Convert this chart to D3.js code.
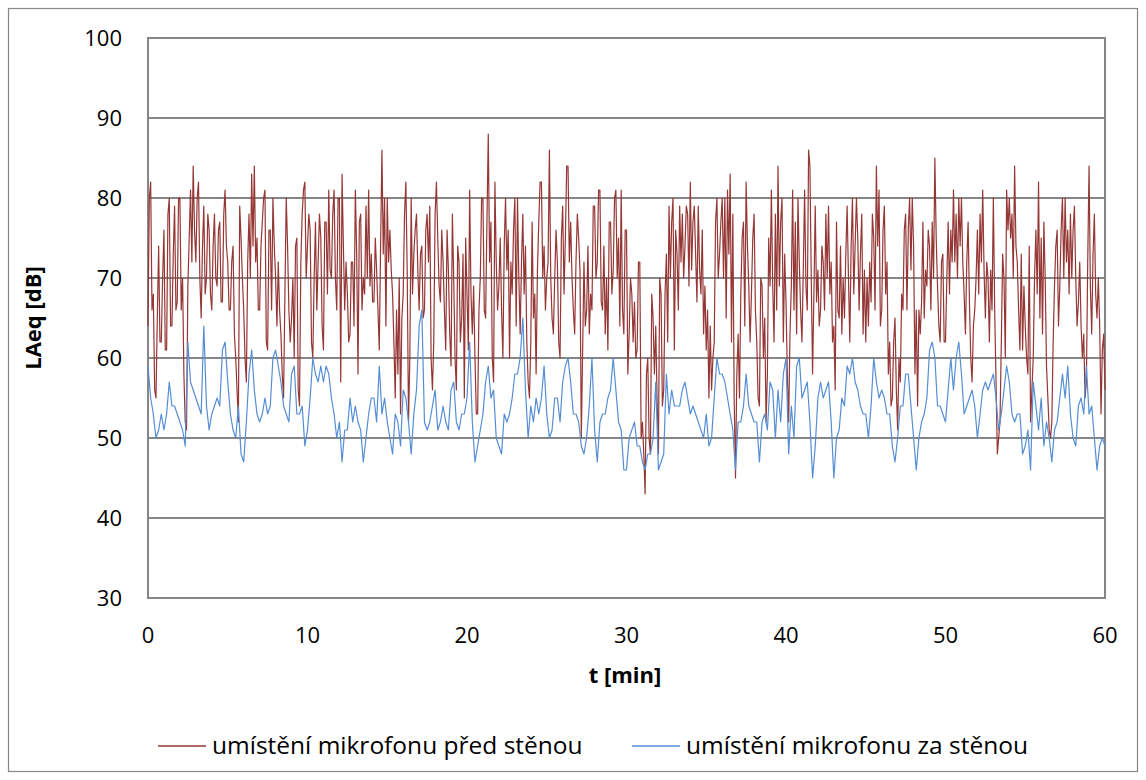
<!DOCTYPE html>
<html>
<head>
<meta charset="utf-8">
<script src="https://cdn.jsdelivr.net/npm/d3@7"></script>
<style>
  body { margin: 0; background: #fff; }
  text { font-family: "Open Sans", Lato, sans-serif; fill: #000; }
</style>
</head>
<body>
<div id="chart"></div>
<script>
// sampling steps, in minutes
const stepFront = 1 / 12;  // 5 s
const stepBehind = 1 / 6;  // 10 s

const seriesNames = ['umístění mikrofonu před stěnou', 'umístění mikrofonu za stěnou'];
const seriesColors = ['#953735', '#558ed5'];

// LAeq [dB], microphone in front of the wall (one row = 6 min)
const frontWall = [
  64,80,82,66,68,56,55,65,74,62,62,70,76,61,61,78,80,64,64,73,79,66,67,80,80,66,70,58,52,51,69,75,81,72,84,76,72,80,82,70,65,74,79,68,70,78,76,68,66,74,78,70,69,76,77,67,67,78,81,74,72,66,66,72,74,63,60,56,52,79,75,70,
  66,60,57,72,78,70,83,74,84,72,75,66,66,74,77,80,81,62,61,76,76,66,80,74,70,64,72,66,63,58,55,68,80,74,66,62,65,70,60,74,75,56,54,72,78,81,82,70,74,78,76,62,60,70,77,66,72,78,75,64,61,77,77,68,81,71,70,78,81,70,66,80,
  80,57,83,74,66,72,68,62,63,72,72,64,81,73,58,77,78,66,70,68,79,70,81,69,73,67,67,75,71,66,61,74,86,73,80,64,80,72,76,71,68,62,55,66,58,70,53,65,68,78,82,71,52,60,80,68,73,76,78,71,66,73,74,65,66,76,78,72,79,60,56,62,
  78,82,75,69,67,76,72,66,61,76,71,63,59,78,70,60,56,74,72,62,65,73,55,75,68,61,81,68,63,69,60,53,53,66,70,80,80,66,65,77,88,72,77,60,57,82,72,66,69,75,66,60,74,80,71,76,60,72,68,76,80,64,80,70,63,72,78,68,74,62,57,55,
  62,77,65,68,58,71,77,82,82,70,74,66,70,72,86,70,65,63,70,76,72,62,60,75,79,68,75,84,84,72,77,70,66,63,72,78,75,71,50,61,72,64,66,74,63,68,66,79,79,70,72,81,81,67,66,74,63,70,61,77,77,68,71,80,81,70,75,64,81,66,63,76,
  76,58,63,70,68,62,67,60,61,72,72,50,52,48,43,58,60,50,48,68,65,58,64,55,48,70,68,54,56,68,73,62,79,70,77,80,61,76,73,66,79,72,78,70,74,79,78,69,82,71,77,79,73,67,79,71,68,76,63,69,61,66,55,64,56,60,62,77,80,70,73,77,
  80,70,80,65,81,73,83,62,78,55,45,58,63,55,68,75,77,64,82,74,69,62,68,75,78,66,62,55,54,70,69,60,65,52,58,75,69,81,69,62,78,66,84,69,77,80,62,73,67,58,52,63,69,81,66,77,63,80,72,66,62,71,81,69,66,86,84,70,58,68,79,67,
  71,64,66,74,72,66,78,70,79,68,72,62,64,56,77,66,65,74,63,70,65,73,79,70,62,74,80,68,74,80,75,66,73,78,63,71,62,70,64,72,67,78,75,66,84,74,81,64,66,76,79,68,72,58,62,54,55,62,65,56,51,60,57,68,66,76,78,66,76,80,71,80,
  74,58,66,54,66,63,67,77,65,71,69,76,74,66,77,70,85,75,69,64,62,72,73,62,62,70,77,68,76,72,81,72,78,70,80,74,80,72,68,63,72,77,67,60,57,64,66,70,76,68,78,72,81,71,65,72,70,62,71,66,80,66,57,48,50,52,62,73,70,60,81,76,
  80,75,78,70,84,74,72,66,61,73,61,69,64,60,58,74,52,56,60,70,76,68,82,65,75,63,77,70,59,55,51,50,52,62,69,74,76,64,69,76,80,70,80,72,76,68,78,70,76,79,70,64,67,72,64,60,63,55,57,72,84,69,63,73,78,68,65,70,64,53,61,63,
  56
];

// LAeq [dB], microphone behind the wall (one row = 6 min)
const behindWall = [
  59,55,53,50,51,53,51,53,57,54,54,53,52,51,49,62,57,56,55,54,53,64,54,51,53,54,55,54,61,62,57,53,51,50,54,48,
  47,52,58,61,56,53,52,53,55,53,54,60,61,59,57,54,53,52,58,59,53,53,54,49,51,55,60,58,57,59,57,59,58,55,53,50,
  52,47,51,51,55,52,54,52,51,47,50,53,55,55,52,59,53,55,52,50,48,53,52,49,56,55,52,48,53,56,64,66,52,51,52,54,
  56,51,52,54,52,51,56,57,52,51,53,53,55,62,52,47,49,51,53,57,59,55,56,50,49,48,53,52,53,55,58,58,60,65,56,50,
  54,52,55,53,55,59,53,50,51,55,55,52,57,59,60,57,53,53,52,49,48,50,54,60,51,47,52,53,53,55,56,60,56,52,51,46,
  46,50,51,52,49,49,47,46,48,48,50,57,46,47,48,58,53,56,54,54,54,56,57,55,53,54,53,52,51,50,53,49,50,55,60,58,
  58,57,55,53,51,46,52,52,54,58,54,53,52,52,47,52,53,51,57,56,50,56,52,58,60,48,54,50,59,60,55,56,57,52,45,49,
  55,57,55,56,57,52,45,50,51,55,54,59,58,60,57,56,54,53,53,50,54,60,57,55,56,55,53,53,49,47,50,54,54,58,58,54,
  50,46,50,52,53,55,61,62,60,54,54,53,52,56,60,56,60,62,58,53,54,55,56,54,50,53,56,57,56,57,58,55,51,53,56,59,
  57,53,52,53,53,48,49,51,46,57,54,51,55,49,52,50,47,51,52,55,58,55,59,53,50,49,54,55,53,59,53,54,50,46,49,50,
  49
];

const yTicks = [30, 40, 50, 60, 70, 80, 90, 100];
const xTicks = [0, 10, 20, 30, 40, 50, 60];

const W = 1146, H = 780;
const plot = { left: 148, top: 38, right: 1105, bottom: 598 };

const svg = d3.select('#chart').append('svg')
  .attr('width', W)
  .attr('height', H);

svg.append('rect')
  .attr('width', W).attr('height', H)
  .attr('fill', '#fff');

// outer chart frame
svg.append('rect')
  .attr('x', 8.5).attr('y', 8.5)
  .attr('width', 1129).attr('height', 763)
  .attr('fill', 'none')
  .attr('stroke', '#868686')
  .attr('stroke-width', 1.2);

const x = d3.scaleLinear().domain([0, 60]).range([plot.left, plot.right]);
const y = d3.scaleLinear().domain([30, 100]).range([plot.bottom, plot.top]);

// horizontal gridlines
svg.append('g')
  .selectAll('line')
  .data(yTicks)
  .join('line')
  .attr('x1', plot.left).attr('x2', plot.right)
  .attr('y1', d => y(d)).attr('y2', d => y(d))
  .attr('stroke', '#868686')
  .attr('stroke-width', 2);

// plot area frame
svg.append('rect')
  .attr('x', plot.left).attr('y', plot.top)
  .attr('width', plot.right - plot.left).attr('height', plot.bottom - plot.top)
  .attr('fill', 'none')
  .attr('stroke', '#868686')
  .attr('stroke-width', 2);

// y tick labels
svg.append('g')
  .selectAll('text')
  .data(yTicks)
  .join('text')
  .attr('x', 122)
  .attr('y', d => y(d) + 8)
  .attr('text-anchor', 'end')
  .style('font-size', '22px')
  .text(d => d);

// x tick labels
svg.append('g')
  .selectAll('text')
  .data(xTicks)
  .join('text')
  .attr('x', d => x(d))
  .attr('y', 643)
  .attr('text-anchor', 'middle')
  .style('font-size', '22px')
  .text(d => d);

// axis titles
svg.append('text')
  .attr('x', 625)
  .attr('y', 683)
  .attr('text-anchor', 'middle')
  .style('font-size', '22px')
  .style('font-weight', 'bold')
  .text('t [min]');

svg.append('text')
  .attr('transform', `translate(41, ${(plot.top + plot.bottom) / 2}) rotate(-90)`)
  .attr('text-anchor', 'middle')
  .style('font-size', '22px')
  .style('font-weight', 'bold')
  .text('LAeq [dB]');

// the two series
const lineFor = step => d3.line()
  .x((d, i) => x(i * step))
  .y(d => y(d));

svg.append('path')
  .datum(frontWall)
  .attr('d', lineFor(stepFront))
  .attr('fill', 'none')
  .attr('stroke', seriesColors[0])
  .attr('stroke-width', 1.2)
  .attr('stroke-linejoin', 'round');

svg.append('path')
  .datum(behindWall)
  .attr('d', lineFor(stepBehind))
  .attr('fill', 'none')
  .attr('stroke', seriesColors[1])
  .attr('stroke-width', 1.2)
  .attr('stroke-linejoin', 'round');

// legend
const legendX = [158, 632];
const legend = svg.append('g')
  .selectAll('g')
  .data(seriesNames)
  .join('g')
  .attr('transform', (d, i) => `translate(${legendX[i]}, 746)`);

legend.append('line')
  .attr('x1', 0).attr('x2', 48)
  .attr('stroke', (d, i) => seriesColors[i])
  .attr('stroke-width', 1.5);

legend.append('text')
  .attr('x', 54)
  .attr('y', 8)
  .style('font-size', '24.5px')
  .text(d => d);
</script>
</body>
</html>
